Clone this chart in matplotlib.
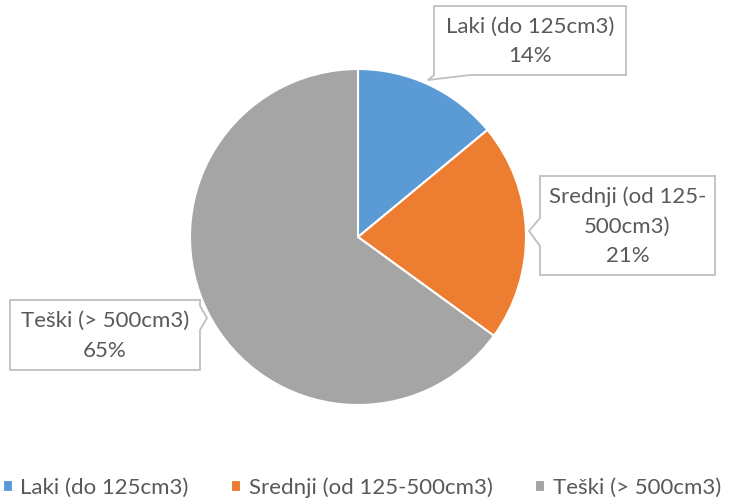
import matplotlib.pyplot as plt
from matplotlib.patches import Polygon

plt.rcParams['font.family'] = ['Lato', 'DejaVu Sans']

# podaci
kategorije = ['Laki (do 125cm3)', 'Srednji (od 125-500cm3)', 'Teški (> 500cm3)']
oznake = ['Laki (do 125cm3)\n14%', 'Srednji (od 125-\n500cm3)\n21%', 'Teški (> 500cm3)\n65%']
udjeli = [14, 21, 65]
boje = ['#5B9BD5', '#ED7D31', '#A5A5A5']

W, H = 731, 501
CX, CY, R = 358, 237, 168   # središte i radijus kruga u pikselima


def px(x, y):
    # piksel -> koordinate osi
    return (x - CX) / R, (CY - y) / R


fig = plt.figure(figsize=(W / 100, H / 100), dpi=100)
ax = fig.add_axes([0, 0, 1, 1])

wedges, _ = ax.pie(udjeli, colors=boje, startangle=90, counterclock=False,
                   radius=1, center=(0, 0),
                   wedgeprops=dict(edgecolor='white', linewidth=1.5))

ax.set_aspect('auto')
ax.set_xlim(-CX / R, (W - CX) / R)
ax.set_ylim(-(H - CY) / R, CY / R)
ax.axis('off')


def oblacic(x0, y0, x1, y1, strana, b0, b1, vrh, tekst):
    # okvir s "repom" prema isječku
    if strana == 'bottom':
        pts = [(x0, y0), (x1, y0), (x1, y1), (b1, y1), vrh, (b0, y1), (x0, y1)]
    elif strana == 'left':
        pts = [(x0, y0), (x1, y0), (x1, y1), (x0, y1), (x0, b1), vrh, (x0, b0)]
    else:
        pts = [(x0, y0), (x1, y0), (x1, b0), vrh, (x1, b1), (x1, y1), (x0, y1)]
    ax.add_patch(Polygon([px(*p) for p in pts], closed=True, facecolor='white',
                         edgecolor='#BFBFBF', linewidth=1.3, zorder=3))
    ax.text(*px((x0 + x1) / 2, (y0 + y1) / 2 + 1), tekst, ha='center', va='center',
            fontsize=16, color='#595959', linespacing=1.6, zorder=4)


oblacic(434, 6, 626, 75, 'bottom', 434, 470, (428, 80), oznake[0])
oblacic(540, 176, 715, 275, 'left', 218, 246, (529, 231), oznake[1])
oblacic(10, 300, 200, 370, 'right', 306, 330, (207, 318), oznake[2])

fig.legend(wedges, kategorije, loc='center', bbox_to_anchor=(0.495, 1 - 488 / H),
           ncol=3, frameon=False, fontsize=16, labelcolor='#595959',
           handlelength=0.45, handleheight=0.45, handletextpad=0.35, columnspacing=1.9)

fig.savefig('out.png', dpi=100)
